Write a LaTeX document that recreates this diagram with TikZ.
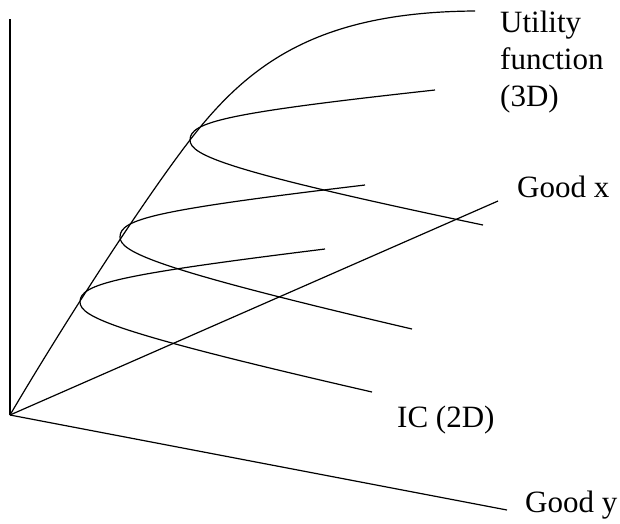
\documentclass[tikz,border=0pt]{standalone}
\usepackage{fontspec}
\setmainfont{Liberation Serif}
\begin{document}
\begin{tikzpicture}[x=1pt,y=-1pt,
  curve/.style={line width=1.2pt,line join=round},
  lbl/.style={inner sep=0pt,font=\fontsize{31}{37}\selectfont}]
\useasboundingbox (0,0) rectangle (620,523);
% axes
\coordinate (O) at (10,415);
\coordinate (Ztop) at (10,19);
\coordinate (Xend) at (498,201);
\coordinate (Yend) at (507,510);
\draw[curve] (Ztop) -- (O);
\draw[curve] (O) -- (Xend);
\draw[curve] (O) -- (Yend);
% utility function
\draw[curve] (O) .. controls (60,330) and (140,205) .. (190,140)
                 .. controls (250,62) and (320,12) .. (475,11);
% indifference curves (vertex on the utility curve)
\draw[curve] (435,90) .. controls (225,113) and (190,122) .. (190,140)
                      .. controls (190,155) and (225,171) .. (483,225);
\draw[curve] (365,185) .. controls (155,210) and (120,219) .. (120,237)
                       .. controls (120,252) and (155,269) .. (412,329);
\draw[curve] (325,249) .. controls (115,275) and (80,284) .. (80,302)
                       .. controls (80,317) and (115,333) .. (372,392);
% labels
\node[lbl,anchor=north west,align=left] (util) at (500,11) {Utility\\function\\(3D)};
\node[lbl,anchor=base west] (gx) at (517,197) {Good x};
\node[lbl,anchor=base west] (ic) at (397,427) {IC (2D)};
\node[lbl,anchor=base west] (gy) at (525,512) {Good y};
\end{tikzpicture}
\end{document}
